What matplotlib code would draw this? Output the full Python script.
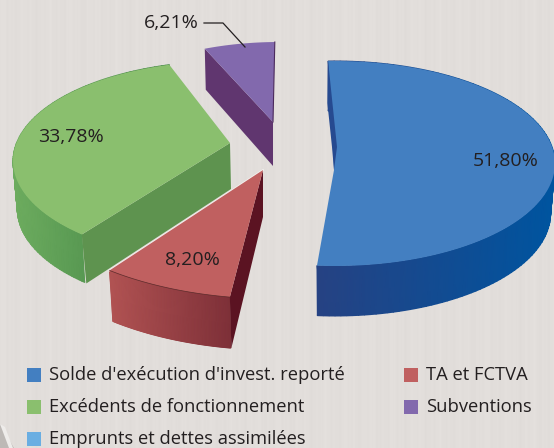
import numpy as np
import matplotlib
matplotlib.use("Agg")
import matplotlib.pyplot as plt
from matplotlib.colors import LinearSegmentedColormap
from matplotlib.patches import Rectangle

labels = ["Solde d'exécution d'invest. reporté", "TA et FCTVA", "Excédents de fonctionnement",
          "Subventions", "Emprunts et dettes assimilées"]
values = [51.80, 8.20, 33.78, 6.21, 0.0]
value_text = ["51,80%", "8,20%", "33,78%", "6,21%"]
legend_colors = ["#437fc1", "#c06060", "#8abf6e", "#8269ad", "#6aaee2"]

W, H = 554, 448
fig = plt.figure(figsize=(W/100, H/100), dpi=100)
ax = fig.add_axes([0, 0, 1, 1])
ax.set_xlim(0, W); ax.set_ylim(H, 0); ax.axis("off")
plt.rcParams['font.family'] = ['Open Sans', 'DejaVu Sans']

# background stripes
x = np.arange(W)
stripe = 0.9*np.sin(x*2*np.pi/9.5) + 0.8*np.sin(x*2*np.pi/23.0 + 1) + 0.6*np.sin(x*2*np.pi/4.1)
bg = np.stack([226+stripe, 222+stripe, 219+stripe], axis=-1)[None, :, :]/255
ax.imshow(np.repeat(bg, 2, axis=0), extent=(0, W, H, 0), aspect='auto', zorder=0)
ax.fill([0, 14, 0], [424, 448, 448], color="#bdb9b6", lw=0, zorder=1)
ax.fill([0, 5, 13, 9], [424, 427, 448, 448], color="#eeecea", lw=0, zorder=1.1)

BASE = 91.3
spans = np.array(values) * 360 / sum(values)
starts = BASE - np.concatenate([[0], np.cumsum(spans)[:-1]])

# per-slice projected geometry: apex, ellipse centre, radii, angle offset
geo = {
 0: dict(apex=(334, 170), c=(335, 163.5), r=(220, 102.5), off=0.5, d=50, top="#437fc1", side=("#264283", "#00549f")),
 1: dict(apex=(263, 170), c=(275, 174), r=(260, 125), off=-4.8, d=51, top="#c06060", side=("#b05252", "#7e3038")),
 2: dict(apex=(230, 143), c=(227, 161), r=(214, 100), off=-8, d=48, top="#8abf6e", side=("#6cab5e", "#3f8244")),
 3: dict(apex=(273, 122), c=(279, 122), r=(185, 80), off=0, d=44, top="#8269ad", side=("#60366f", "#60366f")),
}

def arc(i, scale=1.0, dy=0.0, n=120):
    g = geo[i]
    t = np.radians(np.linspace(starts[i] + g['off'], starts[i] - spans[i] + g['off'], n))
    return g['c'][0] + g['r'][0]*scale*np.cos(t), g['c'][1] + dy - g['r'][1]*np.sin(t)

K = 0.98
def side(i):
    g = geo[i]
    xt, yt = arc(i); xb, yb = arc(i, K, g['d'])
    cmap = LinearSegmentedColormap.from_list("s", list(g['side']))
    X = np.vstack([xt, xb]); Y = np.vstack([yt, yb])
    # the visible part of the outer wall runs from the cut end to the far extreme
    lo, hi = xb.min(), xb.max()
    C = (X - lo) / (hi - lo)
    ax.pcolormesh(X, Y, C, shading='gouraud', cmap=cmap, vmin=0, vmax=1, zorder=3, rasterized=True)

def top(i):
    g = geo[i]
    xt, yt = arc(i)
    ax.fill(np.r_[g['apex'][0], xt], np.r_[g['apex'][1], yt], color=g['top'], lw=0, zorder=4)

# Purple
g = geo[3]; xt, yt = arc(3)
ax.fill([xt[0], xt[0]+1, g['apex'][0], g['apex'][0]], [yt[0], yt[0]+41, g['apex'][1]+44, g['apex'][1]], color="#60366f", lw=0, zorder=3)
top(3)
ax.plot([xt[-1], g['apex'][0]], [yt[-1], g['apex'][1]], color="#4b2a5c", lw=0.8, zorder=5)

# Green
g = geo[2]; xt, yt = arc(2)
side(2)
ax.fill([xt[0], xt[0]+4.5, g['apex'][0]+1, g['apex'][0]], [yt[0], yt[0]+49, g['apex'][1]+46, g['apex'][1]], color="#5e934f", lw=0, zorder=3.5)
top(2)

# Red
g = geo[1]; xt, yt = arc(1)
side(1)
ax.fill([g['apex'][0], g['apex'][0], xt[0]+1.5, xt[0]], [g['apex'][1], g['apex'][1]+47, yt[0]+51, yt[0]], color="#5b1322", lw=0, zorder=3.5)
top(1)
ax.plot(np.r_[g['apex'][0], xt[-1]], np.r_[g['apex'][1], yt[-1]], color="#f4f2ef", lw=1.2, zorder=3.8)
ax.plot(xt, yt, color="#5b2a2a", lw=0.5, zorder=5)

# Blue
g = geo[0]; xt, yt = arc(0)
side(0)
top(0)
ax.fill([xt[0], xt[0]-.7, g['apex'][0]-2, g['apex'][0], g['apex'][0]+3],
        [yt[0], yt[0]+42, g['apex'][1]-23, g['apex'][1], g['apex'][1]-23], color="#264a90", lw=0, zorder=5)

# labels
tk = dict(color="#231f20", fontsize=14, ha='center', va='center', zorder=8)
ax.text(506, 161, value_text[0], **tk)
ax.text(192, 260, value_text[1], **tk)
ax.text(71, 137, value_text[2], **tk)
ax.text(171, 23, value_text[3], **tk)
ax.plot([204, 223, 245], [23, 23, 47], color="#231f20", lw=0.9, zorder=8)

# legend
pos = [(27, 375, 49), (404, 375, 426), (27, 407, 49), (404, 407, 426), (27, 439, 49)]
for lab, col, (sx, y, tx) in zip(labels, legend_colors, pos):
    ax.add_patch(Rectangle((sx, y-7), 14, 14, color=col, lw=0, zorder=8))
    ax.text(tx, y, lab, color="#231f20", fontsize=13.2, ha='left', va='center', zorder=8)

fig.savefig("out.png", dpi=100)
